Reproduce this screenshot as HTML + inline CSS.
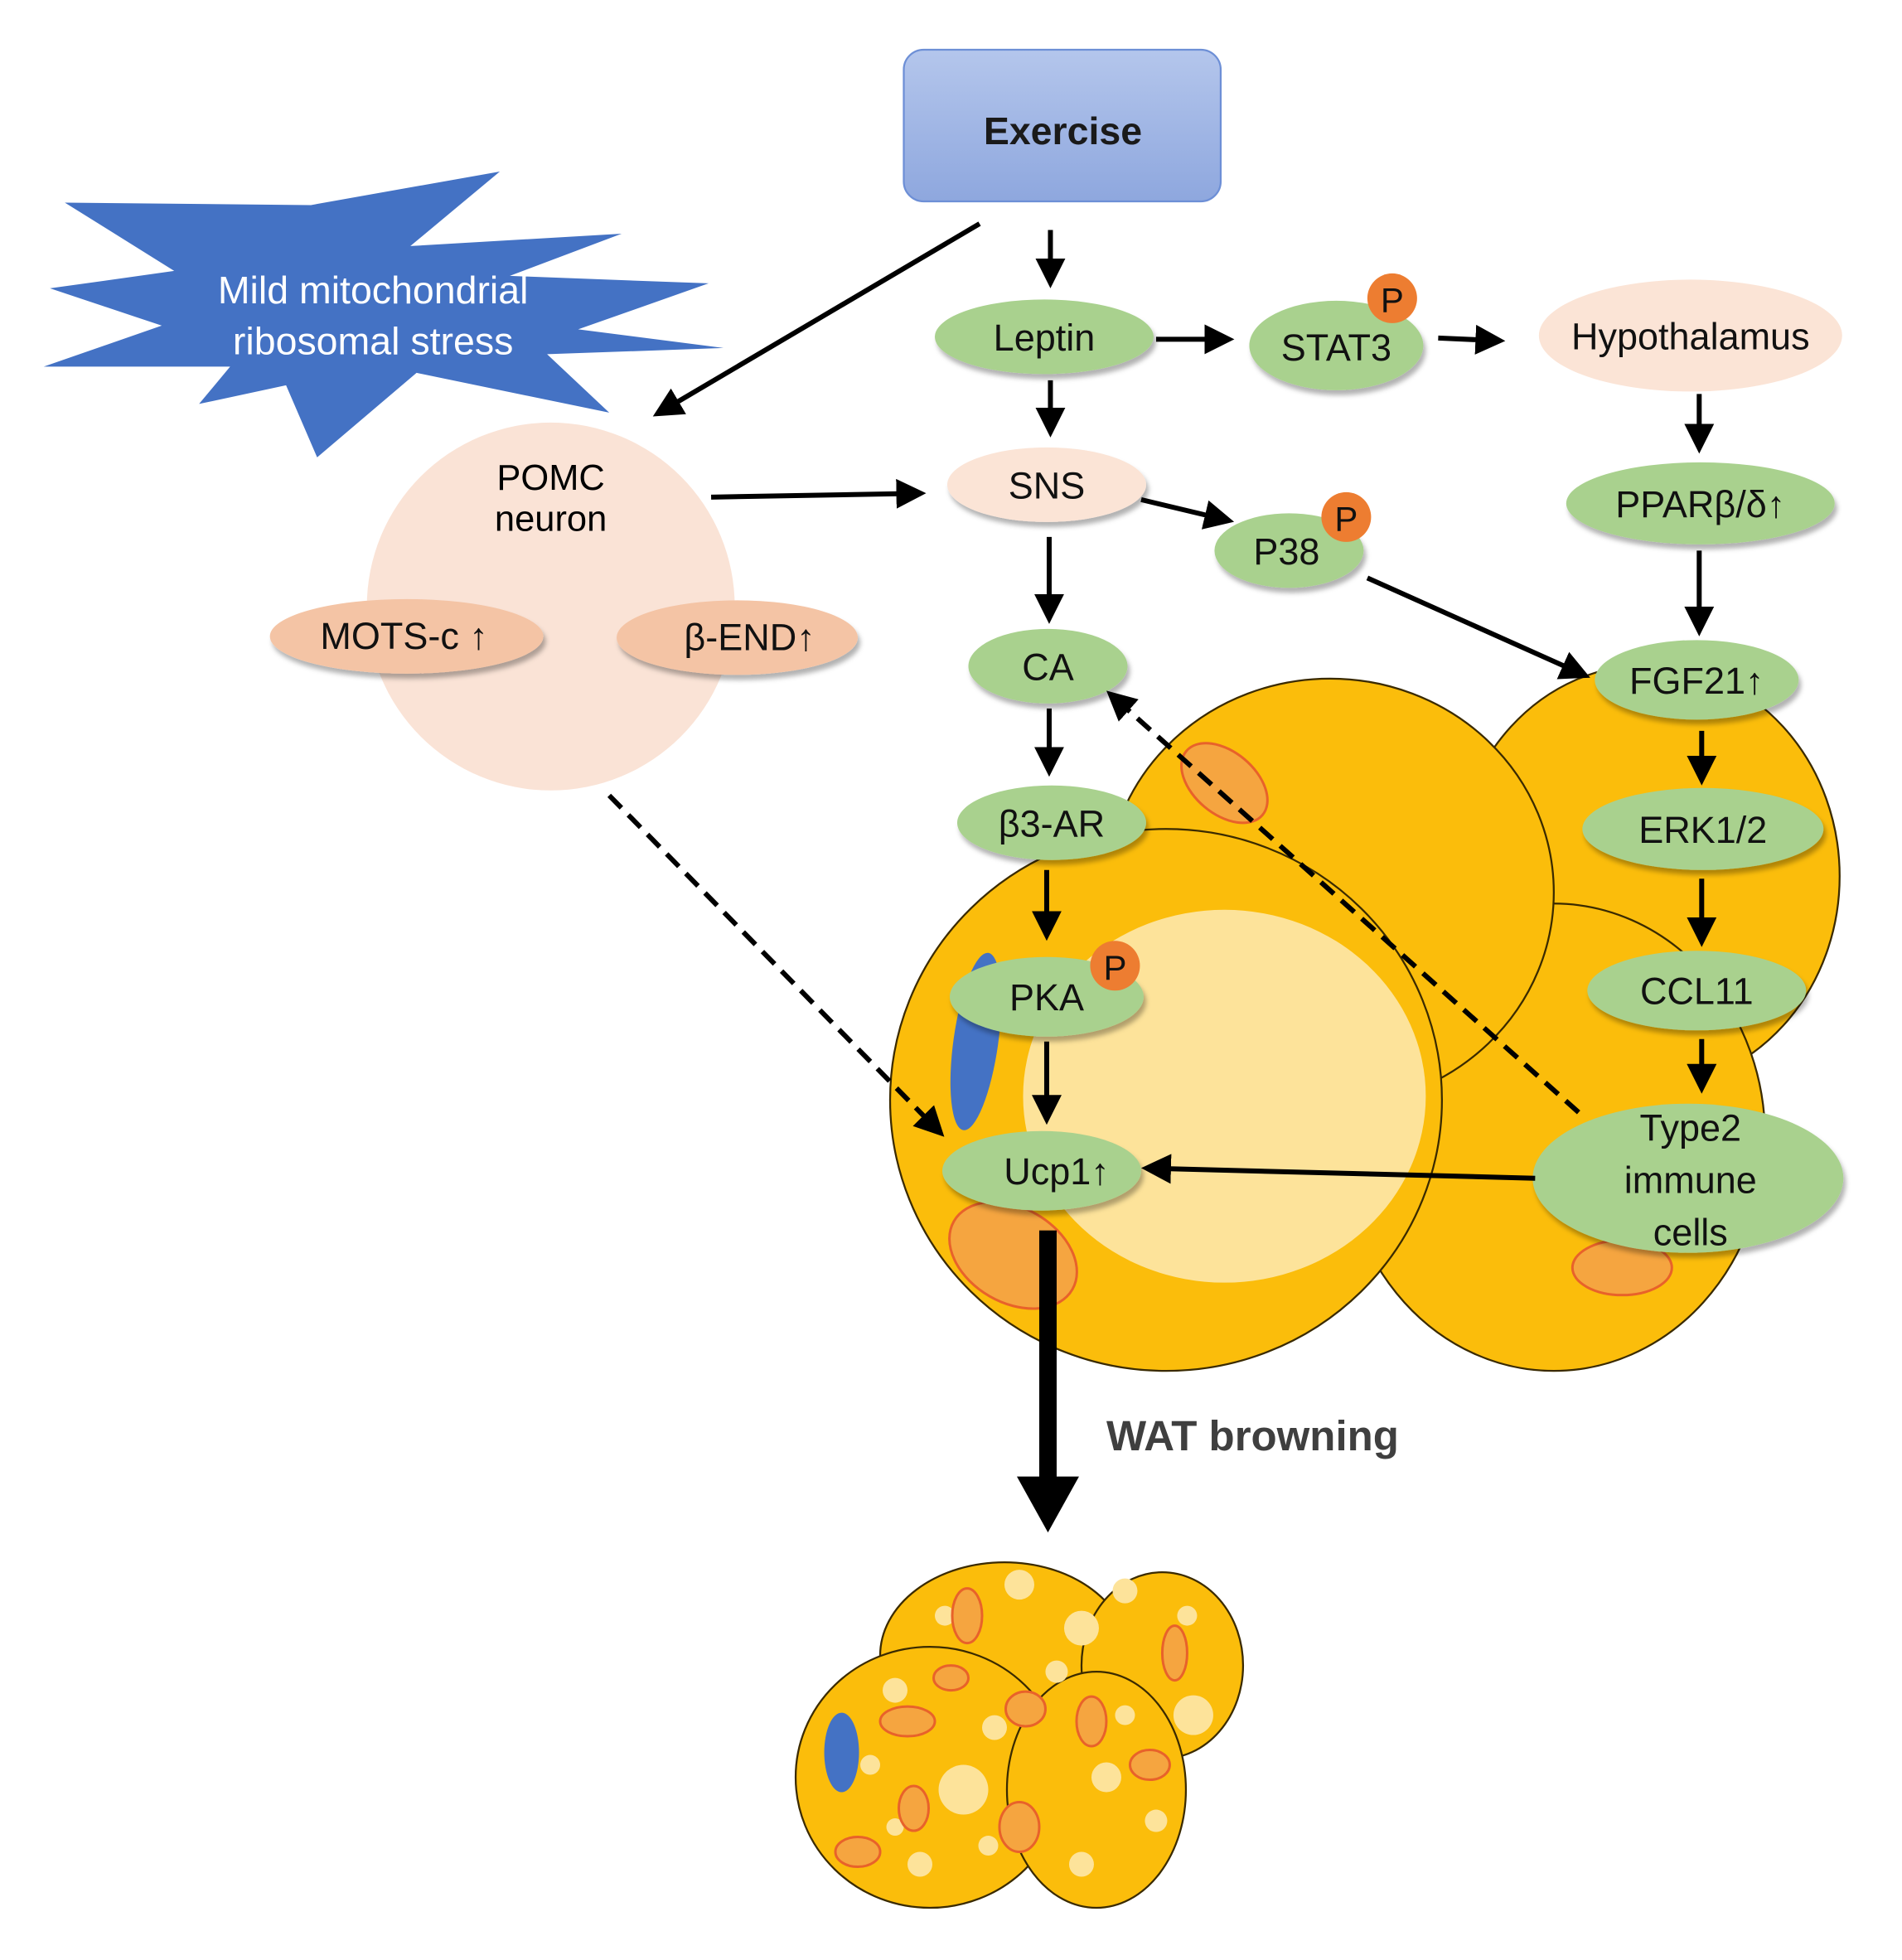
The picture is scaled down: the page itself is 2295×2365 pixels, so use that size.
<!DOCTYPE html>
<html><head><meta charset="utf-8"><style>html,body{margin:0;padding:0;background:#fff}svg{display:block}</style></head>
<body>
<svg width="2295" height="2365" viewBox="0 0 1530 1577" xmlns="http://www.w3.org/2000/svg" font-family="Liberation Sans, sans-serif">
<defs>
<linearGradient id="ex" x1="0" y1="0" x2="0" y2="1"><stop offset="0" stop-color="#b4c6ec"/><stop offset="1" stop-color="#8ea7de"/></linearGradient>
<marker id="ah" markerWidth="6" markerHeight="6" refX="4" refY="3" orient="auto" markerUnits="strokeWidth"><path d="M0,0 L6,3 L0,6 z" fill="#000"/></marker>
<filter id="sh" x="-20%" y="-20%" width="140%" height="150%"><feDropShadow dx="2" dy="4" stdDeviation="2" flood-color="#000" flood-opacity="0.3"/></filter>
</defs>
<!-- cells -->
<g stroke="#3a2a00" stroke-width="1.5" fill="#fbbd0b">
<ellipse cx="1325" cy="705" rx="155" ry="170"/>
<ellipse cx="1250" cy="915" rx="170" ry="188"/>
<ellipse cx="1070" cy="718" rx="180" ry="172"/>
<ellipse cx="938" cy="885" rx="222" ry="218"/>
</g>
<ellipse cx="985" cy="882" rx="162" ry="150" fill="#fde39a"/>
<ellipse cx="785" cy="838" rx="18" ry="72" fill="#4472c4" transform="rotate(8 785 838)"/>
<g fill="#f2801e" stroke="#e8622a" stroke-width="2">
<ellipse cx="985" cy="630" rx="40" ry="25" fill="#f5a540" transform="rotate(40 985 630)"/>
<ellipse cx="815" cy="1010" rx="55" ry="38" fill="#f5a540" transform="rotate(30 815 1010)"/>
<ellipse cx="1305" cy="1020" rx="40" ry="22" fill="#f5a540"/>
</g>
<!-- bottom brown cells -->
<g stroke="#3a2a00" stroke-width="1.5" fill="#fbbd0b">
<ellipse cx="808" cy="1332" rx="100" ry="75"/>
<ellipse cx="935" cy="1340" rx="65" ry="75"/>
<ellipse cx="748" cy="1430" rx="108" ry="105"/>
<ellipse cx="882" cy="1440" rx="72" ry="95"/>
</g>
<g fill="#fde39a">
<circle cx="820" cy="1275" r="12"/><circle cx="870" cy="1310" r="14"/><circle cx="760" cy="1300" r="8"/><circle cx="905" cy="1280" r="10"/><circle cx="960" cy="1380" r="16"/><circle cx="955" cy="1300" r="8"/>
<circle cx="775" cy="1440" r="20"/><circle cx="720" cy="1360" r="10"/><circle cx="700" cy="1420" r="8"/><circle cx="740" cy="1500" r="10"/><circle cx="800" cy="1390" r="10"/><circle cx="720" cy="1470" r="7"/><circle cx="795" cy="1485" r="8"/>
<circle cx="890" cy="1430" r="12"/><circle cx="905" cy="1380" r="8"/><circle cx="870" cy="1500" r="10"/><circle cx="930" cy="1465" r="9"/><circle cx="850" cy="1345" r="9"/>
</g>
<ellipse cx="677" cy="1410" rx="14" ry="32" fill="#4472c4"/>
<g fill="#f5a540" stroke="#e8622a" stroke-width="2">
<ellipse cx="778" cy="1300" rx="12" ry="22"/><ellipse cx="945" cy="1330" rx="10" ry="22"/><ellipse cx="730" cy="1385" rx="22" ry="12"/><ellipse cx="825" cy="1375" rx="16" ry="14"/><ellipse cx="735" cy="1455" rx="12" ry="18"/><ellipse cx="690" cy="1490" rx="18" ry="12"/><ellipse cx="820" cy="1470" rx="16" ry="20"/><ellipse cx="878" cy="1385" rx="12" ry="20"/><ellipse cx="925" cy="1420" rx="16" ry="12"/><ellipse cx="765" cy="1350" rx="14" ry="10"/>
</g>
<!-- star -->
<polygon points="52,163 250,165 402,138 330,198 500,188 410,222 570,228 465,265 582,280 440,285 490,332 335,300 255,368 230,310 160,325 185,295 35,295 130,262 40,232 140,218" fill="#4472c4"/>
<text x="300" y="244" font-size="31" fill="#fff" text-anchor="middle">Mild mitochondrial</text>
<text x="300" y="285" font-size="31" fill="#fff" text-anchor="middle">ribosomal stress</text>
<!-- Exercise -->
<rect x="727" y="40" width="255" height="122" rx="16" fill="url(#ex)" stroke="#6d8fd6" stroke-width="1.5"/>
<text x="855" y="116" font-size="31" font-weight="bold" fill="#1a1a1a" text-anchor="middle">Exercise</text>
<!-- POMC -->
<circle cx="443" cy="488" r="148" fill="#fae3d6"/>
<text x="443" y="394" font-size="29" text-anchor="middle">POMC</text>
<text x="443" y="427" font-size="29" text-anchor="middle">neuron</text>
<g font-size="30" text-anchor="middle" fill="#111">
<ellipse cx="327" cy="512" rx="110" ry="30" fill="#f4c4a5" filter="url(#sh)"/><text x="325" y="522">MOTS-c ↑</text>
<ellipse cx="593" cy="513" rx="97" ry="30" fill="#f4c4a5" filter="url(#sh)"/><text x="603" y="523">β-END↑</text>
<ellipse cx="1360" cy="270" rx="122" ry="45" fill="#fbe4d6"/><text x="1360" y="281">Hypothalamus</text>
<ellipse cx="842" cy="390" rx="80" ry="30" fill="#fbe4d6" filter="url(#sh)"/><text x="842" y="401">SNS</text>
<g fill="#a9d18e" filter="url(#sh)">
<ellipse cx="840" cy="271" rx="88" ry="30"/><ellipse cx="1075" cy="278" rx="70" ry="36"/><ellipse cx="1037" cy="443" rx="60" ry="30"/>
<ellipse cx="1368" cy="405" rx="108" ry="33"/><ellipse cx="843" cy="536" rx="64" ry="30"/><ellipse cx="1365" cy="547" rx="82" ry="32"/>
<ellipse cx="846" cy="662" rx="76" ry="30"/><ellipse cx="1370" cy="667" rx="97" ry="33"/><ellipse cx="842" cy="802" rx="78" ry="32"/>
<ellipse cx="1365" cy="797" rx="88" ry="32"/><ellipse cx="838" cy="942" rx="80" ry="32"/><ellipse cx="1358" cy="948" rx="125" ry="60"/>
</g>
<text x="840" y="282">Leptin</text><text x="1075" y="290">STAT3</text><text x="1035" y="454">P38</text>
<text x="1368" y="416">PPARβ/δ↑</text><text x="843" y="547">CA</text><text x="1365" y="558">FGF21↑</text>
<text x="846" y="673">β3-AR</text><text x="1370" y="678">ERK1/2</text><text x="842" y="813">PKA</text>
<text x="1365" y="808">CCL11</text><text x="850" y="953">Ucp1↑</text>
<text x="1360" y="918">Type2</text><text x="1360" y="960">immune</text><text x="1360" y="1002">cells</text>
<g fill="#ed7d31"><circle cx="1120" cy="240" r="20"/><circle cx="1083" cy="416" r="20"/><circle cx="897" cy="777" r="20"/></g>
<text x="1120" y="251" font-size="28">P</text><text x="1083" y="427" font-size="28">P</text><text x="897" y="788" font-size="28">P</text>
</g>
<!-- arrows -->
<g stroke="#000" stroke-width="4" fill="none" marker-end="url(#ah)">
<line x1="788" y1="180" x2="532" y2="331"/>
<line x1="845" y1="185" x2="845" y2="224"/>
<line x1="930" y1="273" x2="985" y2="273"/>
<line x1="1157" y1="272" x2="1203" y2="274"/>
<line x1="845" y1="306" x2="845" y2="344"/>
<line x1="572" y1="400" x2="737" y2="397"/>
<line x1="918" y1="402" x2="985" y2="418"/>
<line x1="1367" y1="317" x2="1367" y2="357"/>
<line x1="844" y1="432" x2="844" y2="494"/>
<line x1="1100" y1="465" x2="1272" y2="542"/>
<line x1="1367" y1="443" x2="1367" y2="504"/>
<line x1="844" y1="570" x2="844" y2="617"/>
<line x1="1369" y1="588" x2="1369" y2="624"/>
<line x1="842" y1="700" x2="842" y2="749"/>
<line x1="1369" y1="707" x2="1369" y2="754"/>
<line x1="842" y1="838" x2="842" y2="897"/>
<line x1="1369" y1="836" x2="1369" y2="872"/>
<line x1="1235" y1="948" x2="926" y2="940"/>
<line x1="490" y1="640" x2="754" y2="909" stroke-dasharray="14,8"/>
<line x1="1270" y1="895" x2="896" y2="561" stroke-dasharray="14,8"/>
</g>
<rect x="836" y="990" width="14" height="200" fill="#000"/>
<polygon points="818,1188 868,1188 843,1233" fill="#000"/>
<text x="890" y="1167" font-size="34" font-weight="bold" fill="#3f3f3f">WAT browning</text>
</svg>
</body></html>
